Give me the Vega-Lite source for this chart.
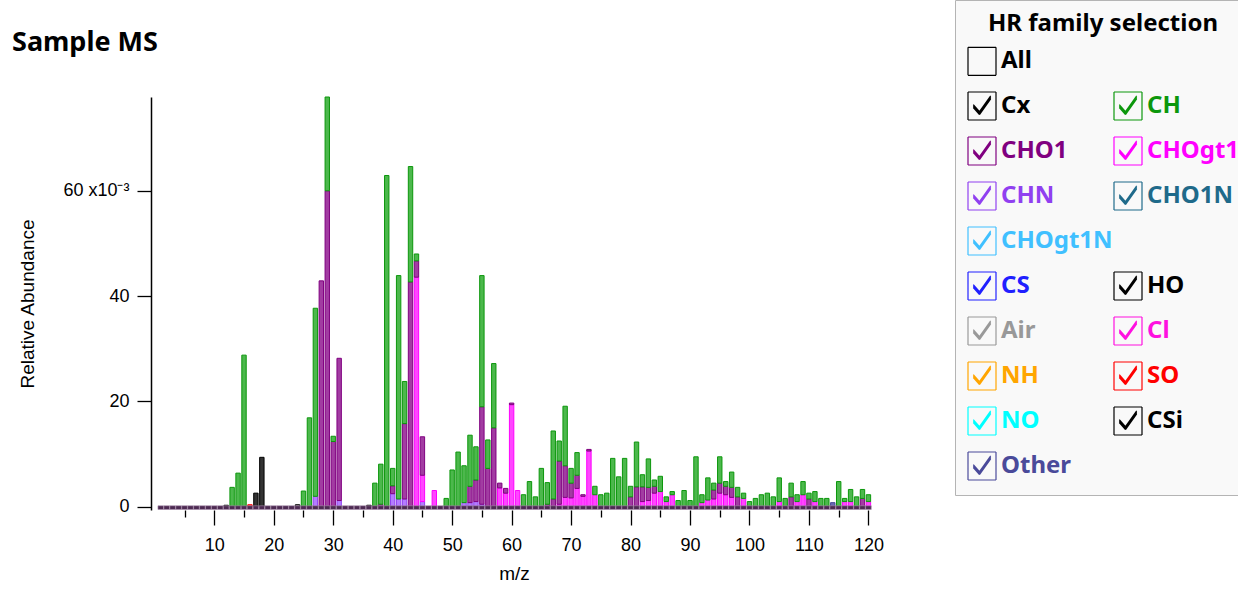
{
  "$schema": "https://vega.github.io/schema/vega-lite/v6.json",
  "width": 726,
  "height": 413,
  "autosize": "none",
  "padding": {"left": 151, "top": 97, "right": 361, "bottom": 91},
  "background": "white",
  "title": {
    "text": "Sample MS",
    "anchor": "start",
    "frame": "group",
    "dx": -139,
    "offset": 0,
    "dy": 78,
    "baseline": "alphabetic",
    "font": "Noto Sans",
    "fontSize": 27,
    "fontWeight": "bold",
    "color": "#000"
  },
  "datasets": {
    "rank": [
      {"family": "Other", "rank": 0},
      {"family": "CHN", "rank": 1},
      {"family": "CHOgt1", "rank": 2},
      {"family": "CHO1", "rank": 3},
      {"family": "CH", "rank": 4},
      {"family": "Cx", "rank": 5},
      {"family": "HO", "rank": 6},
      {"family": "SO", "rank": 7}
    ],
    "base": [
      {"mz":1},{"mz":2},{"mz":3},{"mz":4},{"mz":5},{"mz":6},{"mz":7},{"mz":8},{"mz":9},{"mz":10},
      {"mz":11},{"mz":12},{"mz":13},{"mz":14},{"mz":15},{"mz":16},{"mz":17},{"mz":18},{"mz":19},{"mz":20},
      {"mz":21},{"mz":22},{"mz":23},{"mz":24},{"mz":25},{"mz":26},{"mz":27},{"mz":28},{"mz":29},{"mz":30},
      {"mz":31},{"mz":32},{"mz":33},{"mz":34},{"mz":35},{"mz":36},{"mz":37},{"mz":38},{"mz":39},{"mz":40},
      {"mz":41},{"mz":42},{"mz":43},{"mz":44},{"mz":45},{"mz":46},{"mz":47},{"mz":48},{"mz":49},{"mz":50},
      {"mz":51},{"mz":52},{"mz":53},{"mz":54},{"mz":55},{"mz":56},{"mz":57},{"mz":58},{"mz":59},{"mz":60},
      {"mz":61},{"mz":62},{"mz":63},{"mz":64},{"mz":65},{"mz":66},{"mz":67},{"mz":68},{"mz":69},{"mz":70},
      {"mz":71},{"mz":72},{"mz":73},{"mz":74},{"mz":75},{"mz":76},{"mz":77},{"mz":78},{"mz":79},{"mz":80},
      {"mz":81},{"mz":82},{"mz":83},{"mz":84},{"mz":85},{"mz":86},{"mz":87},{"mz":88},{"mz":89},{"mz":90},
      {"mz":91},{"mz":92},{"mz":93},{"mz":94},{"mz":95},{"mz":96},{"mz":97},{"mz":98},{"mz":99},{"mz":100},
      {"mz":101},{"mz":102},{"mz":103},{"mz":104},{"mz":105},{"mz":106},{"mz":107},{"mz":108},{"mz":109},{"mz":110},
      {"mz":111},{"mz":112},{"mz":113},{"mz":114},{"mz":115},{"mz":116},{"mz":117},{"mz":118},{"mz":119},{"mz":120}
    ],
    "ms": [
      {"mz":12,"family":"Cx","value":0.3},
      {"mz":13,"family":"CH","value":3.7},
      {"mz":14,"family":"CH","value":6.4},
      {"mz":15,"family":"CH","value":28.8},
      {"mz":16,"family":"SO","value":0.4},
      {"mz":17,"family":"HO","value":2.6},
      {"mz":18,"family":"HO","value":9.4},
      {"mz":24,"family":"Cx","value":0.4},
      {"mz":25,"family":"CH","value":3.0},
      {"mz":26,"family":"CH","value":16.9},
      {"mz":27,"family":"CHN","value":2.0},
      {"mz":27,"family":"CH","value":35.7},
      {"mz":28,"family":"CHO1","value":42.9},
      {"mz":29,"family":"CHO1","value":60.0},
      {"mz":29,"family":"CH","value":17.8},
      {"mz":30,"family":"CHO1","value":12.4},
      {"mz":30,"family":"CH","value":1.0},
      {"mz":31,"family":"CHN","value":1.2},
      {"mz":31,"family":"CHO1","value":27.0},
      {"mz":36,"family":"Cx","value":0.3},
      {"mz":37,"family":"CH","value":4.5},
      {"mz":38,"family":"CHO1","value":0.5},
      {"mz":38,"family":"CH","value":7.6},
      {"mz":39,"family":"CH","value":62.9},
      {"mz":40,"family":"CHN","value":2.5},
      {"mz":40,"family":"CHO1","value":1.5},
      {"mz":40,"family":"CH","value":3.3},
      {"mz":41,"family":"CHN","value":1.5},
      {"mz":41,"family":"CH","value":42.4},
      {"mz":42,"family":"CHN","value":1.5},
      {"mz":42,"family":"CHO1","value":14.3},
      {"mz":42,"family":"CH","value":8.0},
      {"mz":43,"family":"CHO1","value":42.7},
      {"mz":43,"family":"CH","value":21.9},
      {"mz":44,"family":"CHOgt1","value":43.6},
      {"mz":44,"family":"CHO1","value":3.1},
      {"mz":44,"family":"CH","value":1.3},
      {"mz":45,"family":"CHN","value":1.0},
      {"mz":45,"family":"CHOgt1","value":5.0},
      {"mz":45,"family":"CHO1","value":7.3},
      {"mz":47,"family":"CHOgt1","value":3.1},
      {"mz":49,"family":"CH","value":1.6},
      {"mz":50,"family":"CH","value":7.0},
      {"mz":51,"family":"CH","value":10.4},
      {"mz":52,"family":"CHN","value":0.8},
      {"mz":52,"family":"CH","value":7.0},
      {"mz":53,"family":"CHN","value":0.8},
      {"mz":53,"family":"CHO1","value":3.1},
      {"mz":53,"family":"CH","value":9.7},
      {"mz":54,"family":"CHN","value":1.0},
      {"mz":54,"family":"CHO1","value":4.1},
      {"mz":54,"family":"CH","value":6.3},
      {"mz":55,"family":"CHN","value":0.5},
      {"mz":55,"family":"CHO1","value":18.5},
      {"mz":55,"family":"CH","value":24.9},
      {"mz":56,"family":"CHO1","value":7.3},
      {"mz":56,"family":"CH","value":5.4},
      {"mz":57,"family":"CHO1","value":15.0},
      {"mz":57,"family":"CH","value":12.2},
      {"mz":58,"family":"CHOgt1","value":3.6},
      {"mz":58,"family":"CHO1","value":0.9},
      {"mz":59,"family":"CHOgt1","value":2.6},
      {"mz":59,"family":"CHO1","value":0.9},
      {"mz":60,"family":"CHOgt1","value":19.4},
      {"mz":60,"family":"CHO1","value":0.3},
      {"mz":61,"family":"CHOgt1","value":3.1},
      {"mz":62,"family":"CH","value":2.3},
      {"mz":63,"family":"CH","value":4.8},
      {"mz":64,"family":"CH","value":1.9},
      {"mz":65,"family":"CH","value":7.3},
      {"mz":66,"family":"CHO1","value":0.5},
      {"mz":66,"family":"CH","value":4.1},
      {"mz":67,"family":"CHO1","value":1.5},
      {"mz":67,"family":"CH","value":12.9},
      {"mz":68,"family":"CHOgt1","value":0.5},
      {"mz":68,"family":"CHO1","value":8.2},
      {"mz":68,"family":"CH","value":3.8},
      {"mz":69,"family":"CHOgt1","value":1.8},
      {"mz":69,"family":"CHO1","value":6.0},
      {"mz":69,"family":"CH","value":11.3},
      {"mz":70,"family":"CHOgt1","value":1.7},
      {"mz":70,"family":"CHO1","value":2.8},
      {"mz":70,"family":"CH","value":2.8},
      {"mz":71,"family":"CHOgt1","value":3.5},
      {"mz":71,"family":"CHO1","value":2.5},
      {"mz":71,"family":"CH","value":4.3},
      {"mz":72,"family":"CHOgt1","value":2.0},
      {"mz":72,"family":"CHO1","value":0.3},
      {"mz":73,"family":"CHOgt1","value":10.6},
      {"mz":73,"family":"CHO1","value":0.3},
      {"mz":74,"family":"CHOgt1","value":2.3},
      {"mz":74,"family":"CH","value":1.6},
      {"mz":75,"family":"CH","value":2.3},
      {"mz":76,"family":"CH","value":2.6},
      {"mz":77,"family":"CH","value":9.2},
      {"mz":78,"family":"CH","value":5.7},
      {"mz":79,"family":"CH","value":9.2},
      {"mz":80,"family":"CHO1","value":1.9},
      {"mz":80,"family":"CH","value":2.0},
      {"mz":81,"family":"CHO1","value":3.8},
      {"mz":81,"family":"CH","value":8.5},
      {"mz":82,"family":"CHOgt1","value":1.0},
      {"mz":82,"family":"CHO1","value":2.8},
      {"mz":82,"family":"CH","value":2.3},
      {"mz":83,"family":"CHOgt1","value":1.2},
      {"mz":83,"family":"CHO1","value":2.5},
      {"mz":83,"family":"CH","value":5.4},
      {"mz":84,"family":"CHOgt1","value":2.6},
      {"mz":84,"family":"CHO1","value":1.3},
      {"mz":84,"family":"CH","value":1.2},
      {"mz":85,"family":"CHOgt1","value":2.9},
      {"mz":85,"family":"CH","value":2.9},
      {"mz":86,"family":"CHOgt1","value":1.0},
      {"mz":86,"family":"CH","value":0.9},
      {"mz":87,"family":"CHOgt1","value":2.3},
      {"mz":87,"family":"CH","value":0.6},
      {"mz":88,"family":"CH","value":1.2},
      {"mz":89,"family":"CH","value":3.1},
      {"mz":90,"family":"CH","value":1.2},
      {"mz":91,"family":"CH","value":9.5},
      {"mz":92,"family":"CHOgt1","value":0.8},
      {"mz":92,"family":"CH","value":1.5},
      {"mz":93,"family":"CHOgt1","value":1.3},
      {"mz":93,"family":"CH","value":4.2},
      {"mz":94,"family":"CHOgt1","value":1.5},
      {"mz":94,"family":"CHO1","value":1.7},
      {"mz":94,"family":"CH","value":1.3},
      {"mz":95,"family":"CHOgt1","value":2.6},
      {"mz":95,"family":"CHO1","value":1.9},
      {"mz":95,"family":"CH","value":5.0},
      {"mz":96,"family":"CHOgt1","value":2.3},
      {"mz":96,"family":"CHO1","value":1.6},
      {"mz":96,"family":"CH","value":0.9},
      {"mz":97,"family":"CHOgt1","value":1.8},
      {"mz":97,"family":"CHO1","value":1.9},
      {"mz":97,"family":"CH","value":2.9},
      {"mz":98,"family":"CHO1","value":1.9},
      {"mz":98,"family":"CH","value":1.8},
      {"mz":99,"family":"CHOgt1","value":1.6},
      {"mz":99,"family":"CH","value":1.0},
      {"mz":100,"family":"CH","value":1.0},
      {"mz":101,"family":"CH","value":1.6},
      {"mz":102,"family":"CH","value":2.3},
      {"mz":103,"family":"CH","value":2.6},
      {"mz":104,"family":"CH","value":1.9},
      {"mz":105,"family":"CHOgt1","value":1.0},
      {"mz":105,"family":"CH","value":4.5},
      {"mz":106,"family":"CH","value":1.6},
      {"mz":107,"family":"CHO1","value":1.9},
      {"mz":107,"family":"CH","value":2.6},
      {"mz":108,"family":"CHOgt1","value":1.0},
      {"mz":108,"family":"CH","value":1.3},
      {"mz":109,"family":"CHOgt1","value":2.3},
      {"mz":109,"family":"CH","value":2.5},
      {"mz":110,"family":"CHO1","value":1.5},
      {"mz":110,"family":"CH","value":1.1},
      {"mz":111,"family":"CHOgt1","value":1.0},
      {"mz":111,"family":"CH","value":1.9},
      {"mz":112,"family":"CH","value":1.6},
      {"mz":113,"family":"CH","value":1.6},
      {"mz":114,"family":"Other","value":0.8},
      {"mz":115,"family":"CH","value":4.8},
      {"mz":116,"family":"CHOgt1","value":1.0},
      {"mz":116,"family":"CH","value":0.6},
      {"mz":117,"family":"CHOgt1","value":1.0},
      {"mz":117,"family":"CH","value":2.3},
      {"mz":118,"family":"CH","value":1.9},
      {"mz":119,"family":"CHO1","value":1.6},
      {"mz":119,"family":"CH","value":1.7},
      {"mz":120,"family":"CHOgt1","value":1.0},
      {"mz":120,"family":"CH","value":1.3}
    ]
  },
  "encoding": {
    "x": {
      "field": "mz",
      "type": "quantitative",
      "title": "m/z",
      "scale": {"domain": [0.2, 120.6], "nice": false, "zero": false},
      "axis": {
        "values": [5,10,15,20,25,30,35,40,45,50,55,60,65,70,75,80,85,90,95,100,105,110,115,120],
        "labelExpr": "datum.value % 10 === 0 ? datum.label : ''",
        "domain": false,
        "grid": false,
        "tickColor": "#000",
        "tickWidth": 1.3,
        "tickSize": {"condition": {"test": "datum.value % 10 === 0", "value": 15}, "value": 7},
        "labelPadding": 11,
        "labelFont": "Liberation Sans",
        "labelFontSize": 18,
        "labelColor": "#000",
        "titleFont": "Liberation Sans",
        "titleFontSize": 19,
        "titleFontWeight": "normal",
        "titleColor": "#000",
        "titlePadding": 10
      }
    }
  },
  "layer": [
    {
      "data": {"name": "ms"},
      "transform": [
        {"lookup": "family", "from": {"data": {"name": "rank"}, "key": "family", "fields": ["rank"]}}
      ],
      "mark": {"type": "bar", "width": 4.4, "strokeWidth": 1},
      "encoding": {
        "y": {
          "field": "value",
          "type": "quantitative",
          "stack": "zero",
          "title": "Relative Abundance",
          "scale": {"domain": [-0.6, 77.8], "nice": false, "zero": false},
          "axis": {
            "values": [0, 20, 40, 60],
            "labelExpr": "datum.value === 60 ? '60 x10⁻³' : datum.label",
            "grid": false,
            "domainColor": "#000",
            "domainWidth": 1.5,
            "tickColor": "#000",
            "tickWidth": 1.3,
            "tickSize": 14,
            "labelPadding": 8,
            "labelFont": "Liberation Sans",
            "labelFontSize": 18,
            "labelColor": "#000",
            "titleFont": "Liberation Sans",
            "titleFontSize": 19,
            "titleFontWeight": "normal",
            "titleColor": "#000",
            "titlePadding": 25
          }
        },
        "order": {"field": "rank", "type": "quantitative"},
        "color": {
          "field": "family",
          "type": "nominal",
          "scale": {
            "domain": ["All","_b1","Cx","CH","CHO1","CHOgt1","CHN","CHO1N","CHOgt1N","_b2","CS","HO","Air","Cl","NH","SO","NO","CSi","Other"],
            "range": ["#000000","#000000","#8a8a8a","#4cb84c","#a23ca2","#ff46ff","#b47cff","#3f82a2","#70d0ff","#000000","#4a4aff","#333333","#aaaaaa","#ff40e8","#ffb733","#ff5050","#60ffff","#333333","#6a6ab4"]
          },
          "legend": {
            "title": "HR family selection",
            "orient": "none",
            "direction": "horizontal",
            "legendX": 804,
            "legendY": -97,
            "columns": 2,
            "columnPadding": -47,
            "rowPadding": 11,
            "padding": 12,
            "strokeColor": "#b4b4b4",
            "fillColor": "#f9f9f9",
            "titleFont": "Noto Sans",
            "titleFontSize": 24,
            "titleFontWeight": "bold",
            "titleColor": "#000",
            "titleAnchor": "middle",
            "titleLimit": 400,
            "titlePadding": 10,
            "labelFont": "Noto Sans",
            "labelFontSize": 24,
            "labelFontWeight": "bold",
            "labelOffset": 4,
            "labelLimit": 300,
            "symbolSize": 784,
            "symbolStrokeWidth": 1.2,
            "labelExpr": "datum.value === '_b1' || datum.value === '_b2' ? '' : datum.label",
            "encode": {
              "symbols": {
                "update": {
                  "stroke": {"value": "#1e1e1e"},
                  "strokeWidth": {"value": 1.2},
                  "opacity": {"signal": "datum.value === '_b1' || datum.value === '_b2' ? 0 : 1"},
                  "shape": {"signal": "datum.value === '_b1' || datum.value === '_b2' ? 'M0,0L0,0' : datum.value === 'All' ? 'M-1,-1L1,-1M1,-1L1,1M1,1L-1,1M-1,1L-1,-1' : 'M-1,-1L1,-1M1,-1L1,1M1,1L-1,1M-1,1L-1,-1M-0.62,-0.1L-0.18,0.4M-0.62,-0.03L-0.18,0.47M-0.62,0.04L-0.18,0.54M-0.62,0.11L-0.18,0.61M-0.18,0.4L0.62,-0.72M-0.18,0.47L0.62,-0.65M-0.18,0.54L0.62,-0.58M-0.18,0.61L0.62,-0.51'"}
                }
              },
              "labels": {
                "update": {
                  "fill": {"signal": "scale('stroke', datum.value)"}
                }
              }
            }
          }
        },
        "stroke": {
          "field": "family",
          "type": "nominal",
          "scale": {
            "domain": ["All","_b1","Cx","CH","CHO1","CHOgt1","CHN","CHO1N","CHOgt1N","_b2","CS","HO","Air","Cl","NH","SO","NO","CSi","Other"],
            "range": ["#000000","#000000","#000000","#0c970c","#800080","#ff00ff","#9040f0","#1f6a8a","#40c0ff","#000000","#2020ff","#000000","#999999","#ff10e0","#ffa500","#ff0000","#00ffff","#000000","#4a4a9a"]
          },
          "legend": null
        }
      }
    },
    {
      "data": {"name": "base"},
      "mark": {"type": "bar", "width": 5.6, "fill": "#4d2a52", "stroke": "#a48aa8", "strokeWidth": 0.6},
      "encoding": {
        "y": {"datum": -0.5, "type": "quantitative"},
        "y2": {"datum": 0.2}
      }
    }
  ],
  "config": {
    "view": {"stroke": null},
    "font": "Liberation Sans"
  }
}
